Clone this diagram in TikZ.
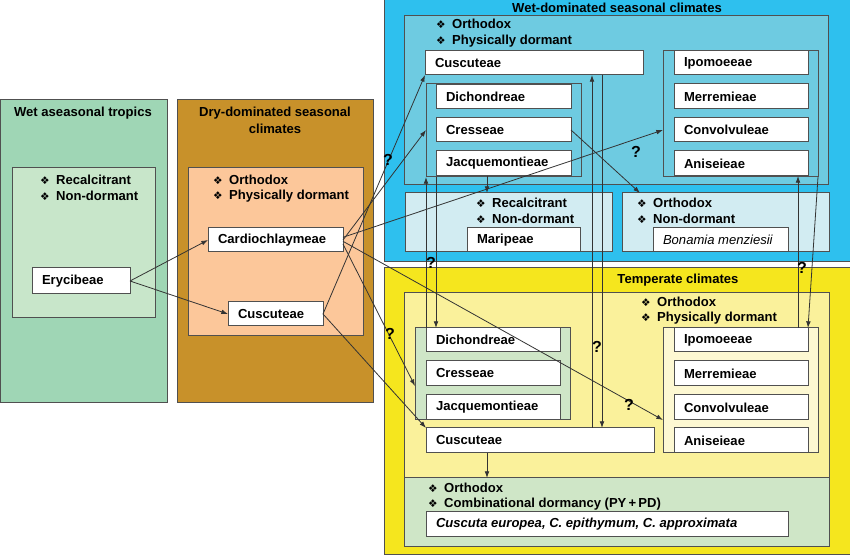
\documentclass[tikz,border=0pt]{standalone}
\usepackage{fontspec}
\setmainfont{Liberation Sans}
\newfontfamily\dejavu{DejaVu Sans}
\usetikzlibrary{arrows.meta}
\tikzset{every picture/.style={line width=0.75pt}}
\definecolor{wetA}{HTML}{9FD6B5}
\definecolor{wetAin}{HTML}{C8E6CA}
\definecolor{dry}{HTML}{C8912A}
\definecolor{dryin}{HTML}{FCC79A}
\definecolor{blueA}{HTML}{2EC0EE}
\definecolor{bluein}{HTML}{6ECBE1}
\definecolor{bluelt}{HTML}{D2ECF2}
\definecolor{yel}{HTML}{F5E61E}
\definecolor{yelin}{HTML}{FAF19B}
\definecolor{grn}{HTML}{CFE6C7}
\definecolor{yellt}{HTML}{FDF8D2}
\definecolor{edge}{HTML}{505050}
\tikzset{
  panel/.style={draw=edge, rectangle, inner sep=0pt, outer sep=0pt},
  lbl/.style={inner sep=0pt, outer sep=0pt},
  quest/.style={inner sep=0pt, font=\fontsize{12}{12}\selectfont\bfseries},
  arr/.style={draw=black!80, line width=0.6pt, -{Latex[length=5pt,width=3.5pt]}}
}
% panel: name, x1, y1, x2, y2, fill
\newcommand\panel[6]{\node[panel, fill=#6, minimum width={(#4-#2)*0.75pt}, minimum height={(#5-#3)*0.75pt}] (#1) at ({(#2+#4)/2},{(#3+#5)/2}) {};}
% tribe box: name, x1, y1, x2, y2, text
\newcommand\tribe[6]{\panel{#1}{#2}{#3}{#4}{#5}{white}
  \node[lbl, anchor=west] (#1-t) at ([xshift=7.5pt]#1.west) {#6};}
\newcommand\bul{{\dejavu\fontsize{8}{8}\selectfont ❖}\hspace{5pt}}

\begin{document}
\begin{tikzpicture}[x=0.75pt,y=0.75pt,yscale=-1,xscale=1, font=\fontsize{9.8}{12}\selectfont\bfseries]
\useasboundingbox (0,0) rectangle (850,555);

% wet aseasonal tropics
\panel{wetA}{0}{100}{167}{403}{wetA}
\node[lbl] (wetA-t) at (83,113) {Wet aseasonal tropics};
\panel{wetAin}{12}{168}{155}{318}{wetAin}
\node[lbl, anchor=west] (wetA-b1) at (40,180) {\bul Recalcitrant};
\node[lbl, anchor=west] (wetA-b2) at (40,196) {\bul Non-dormant};
\tribe{Eryc}{32}{268}{130}{294}{Erycibeae}

% dry-dominated seasonal climates
\panel{dry}{177}{100}{373}{403}{dry}
\node[lbl] (dry-t1) at (275,113) {Dry-dominated seasonal};
\node[lbl] (dry-t2) at (275,129) {climates};
\panel{dryin}{188}{168}{363}{336}{dryin}
\node[lbl, anchor=west] (dry-b1) at (213,180) {\bul Orthodox};
\node[lbl, anchor=west] (dry-b2) at (213,196) {\bul Physically dormant};
\tribe{dCard}{208}{228}{343}{252}{Cardiochlaymeae}
\tribe{dCusc}{228}{302}{323}{326}{Cuscuteae}

% wet-dominated seasonal climates
\panel{wet}{384}{0}{850}{262}{blueA}
\node[lbl] (wet-t) at (617,8) {Wet-dominated seasonal climates};
\panel{wetin}{404}{16}{828}{185}{bluein}
\node[lbl, anchor=west] (wet-b1) at (436,24) {\bul Orthodox};
\node[lbl, anchor=west] (wet-b2) at (436,41) {\bul Physically dormant};
\tribe{wCusc}{425}{51}{643}{75}{Cuscuteae}
\panel{wLgrp}{426}{84}{581}{177}{bluein}
\tribe{wDich}{436}{85}{571}{109}{Dichondreae}
\tribe{wCress}{436}{118}{571}{142}{Cresseae}
\tribe{wJacq}{436}{151}{571}{176}{Jacquemontieae}
\panel{wRgrp}{663}{51}{818}{177}{bluein}
\tribe{wIpom}{674}{51}{808}{75}{Ipomoeeae}
\tribe{wMerr}{674}{84}{808}{109}{Merremieae}
\tribe{wConv}{674}{118}{808}{142}{Convolvuleae}
\tribe{wAnis}{674}{151}{808}{176}{Aniseieae}
\panel{wRec}{405}{193}{612}{252}{bluelt}
\node[lbl, anchor=west] (wRec-b1) at (476,203) {\bul Recalcitrant};
\node[lbl, anchor=west] (wRec-b2) at (476,219) {\bul Non-dormant};
\tribe{wMari}{467}{228}{580}{252}{Maripeae}
\panel{wOND}{622}{193}{829}{252}{bluelt}
\node[lbl, anchor=west] (wOND-b1) at (637,203) {\bul Orthodox};
\node[lbl, anchor=west] (wOND-b2) at (637,219) {\bul Non-dormant};
\tribe{wBona}{653}{228}{788}{252}{\normalfont\itshape Bonamia menziesii}

% temperate climates
\panel{tem}{384}{268}{850}{555}{yel}
\node[lbl] (tem-t) at (678,280) {Temperate climates};
\panel{temin}{404}{293}{829}{478}{yelin}
\node[lbl, anchor=west] (tem-b1) at (641,302) {\bul Orthodox};
\node[lbl, anchor=west] (tem-b2) at (641,318) {\bul Physically dormant};
\panel{tLgrp}{415}{328}{570}{420}{grn}
\tribe{tDich}{426}{328}{560}{352}{Dichondreae}
\tribe{tCress}{426}{361}{560}{386}{Cresseae}
\tribe{tJacq}{426}{395}{560}{420}{Jacquemontieae}
\tribe{tCusc}{426}{428}{654}{453}{Cuscuteae}
\panel{tRgrp}{663}{328}{818}{453}{yellt}
\tribe{tIpom}{674}{328}{808}{352}{Ipomoeeae}
\tribe{tMerr}{674}{361}{808}{386}{Merremieae}
\tribe{tConv}{674}{395}{808}{420}{Convolvuleae}
\tribe{tAnis}{674}{428}{808}{453}{Aniseieae}
\panel{tBot}{404}{478}{829}{547}{grn}
\node[lbl, anchor=west] (tBot-b1) at (428,488) {\bul Orthodox};
\node[lbl, anchor=west] (tBot-b2) at (428,504) {\bul Combinational dormancy (PY\,+\,PD)};
\tribe{tCuscSp}{426}{512}{788}{537}{\itshape Cuscuta europea, C. epithymum, C. approximata}

% helper coordinates
\coordinate (c1) at (487,0);
\coordinate (c2) at (640,0);
\coordinate (c3) at (592,0);
\coordinate (c4) at (602,0);
\coordinate (c5) at (436,0);
\coordinate (c6) at (798,0);

% connectors
\draw[arr] (Eryc.east) -- (dCard.west);
\draw[arr] (Eryc.east) -- (dCusc.west);
\draw[arr] (dCusc.east) -- (wCusc.south west);
\draw[arr] (dCard.east) -- (wLgrp.west |- wCress);
\draw[arr] ([yshift=-2pt]dCard.east) -- (wRgrp.west |- wConv);
\draw[arr] ([yshift=3pt]dCard.east) -- (tLgrp.west |- tCress.south);
\draw[arr] ([yshift=1pt]dCard.east) -- (tRgrp.west |- tConv.south);
\draw[arr] (dCusc.east) -- (tCusc.north west);
\draw[arr] (wJacq.south -| c1) -- (wRec.north -| c1);
\draw[arr] (wCress.east) -- (wOND.north -| c2);
\draw[arr] (tCusc.south -| c1) -- (tBot.north -| c1);
\draw[arr] (tDich.north west) -- (tDich.north west |- wLgrp.south);
\draw[arr] (wLgrp.south -| c5) -- (tDich.north -| c5);
\draw[arr] (tCusc.north -| c3) -- (wCusc.south -| c3);
\draw[arr] (wCusc.south -| c4) -- (tCusc.north -| c4);
\draw[arr] (tIpom.north -| c6) -- (wAnis.south -| c6);
\draw[arr] (wRgrp.south east) -- (tIpom.north east);

% question marks
\node[quest] (q1) at (388,160) {?};
\node[quest] (q2) at (636,152) {?};
\node[quest] (q3) at (431,263) {?};
\node[quest] (q4) at (390,334) {?};
\node[quest] (q5) at (597,347) {?};
\node[quest] (q6) at (629,405) {?};
\node[quest] (q7) at (802,268) {?};
\end{tikzpicture}
\end{document}
